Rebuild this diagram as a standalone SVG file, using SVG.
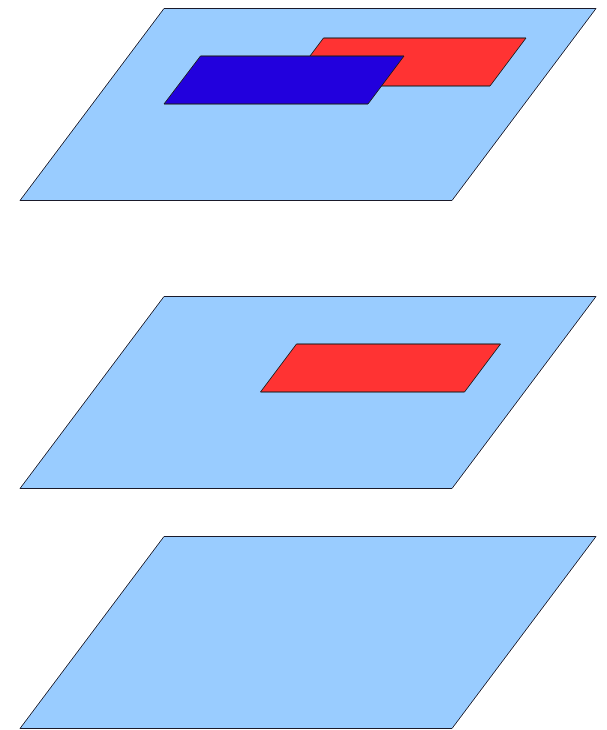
<svg xmlns="http://www.w3.org/2000/svg" width="607" height="730" viewBox="0 0 607 730">
<style>
.plane{fill:#99ccff;stroke:#1a1a2a;stroke-width:1}
.red{fill:#ff3333;stroke:#1a1a1a;stroke-width:1}
.blue{fill:#2200dd;stroke:#1a1a1a;stroke-width:1}
</style>
<rect width="607" height="730" fill="#ffffff"/>
<g id="layer-top">
<polygon class="plane" points="164,8.5 596,8.5 452,200.5 20,200.5"/>
<polygon id="top-red" class="red" points="323.5,38 526,38 490,86 287.5,86"/>
<polygon id="top-blue" class="blue" points="200.5,56 404,56 368,104 164,104"/>
</g>
<g id="layer-middle">
<polygon class="plane" points="164,296.5 596,296.5 452,488.5 20,488.5"/>
<polygon id="middle-red" class="red" points="296.5,344 500.5,344 464.5,392 260.5,392"/>
</g>
<g id="layer-bottom">
<polygon class="plane" points="164,536.5 596,536.5 452,728.5 20,728.5"/>
</g>
<g id="connectors"></g>
</svg>
